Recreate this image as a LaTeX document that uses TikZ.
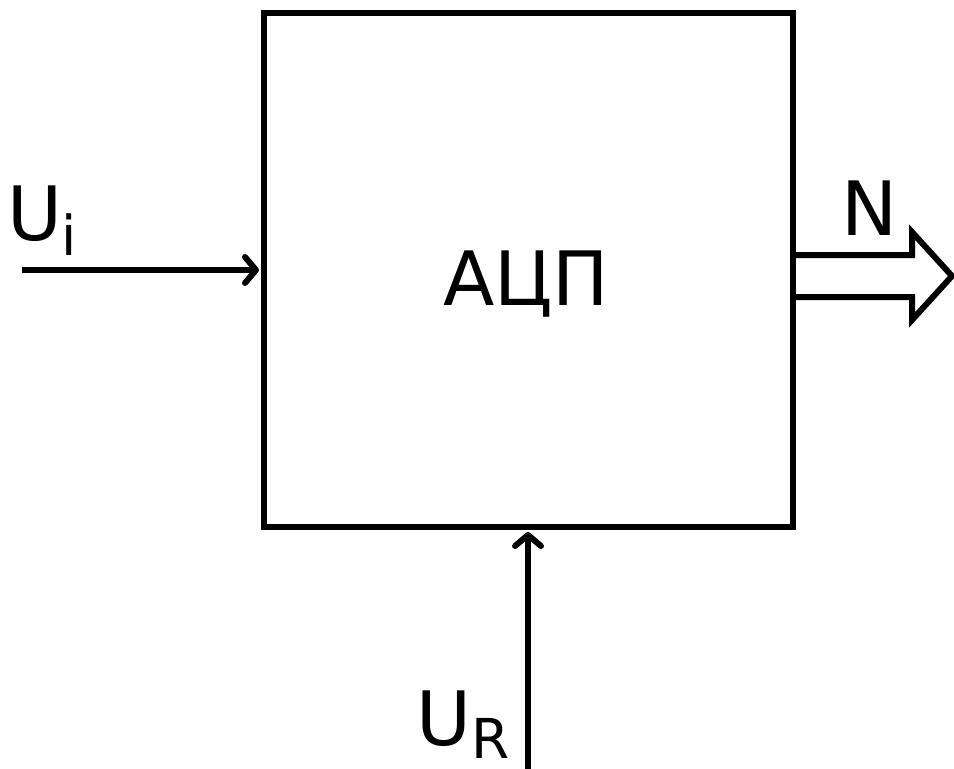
\documentclass[tikz,border=0pt]{standalone}
\usepackage{fontspec}
\setmainfont{DejaVu Sans}
\usetikzlibrary{arrows.meta}
\tikzset{
  wire/.style={line width=6pt, -{Straight Barb[length=11pt,width=26pt,line cap=round,line join=round]}},
  big/.style={inner sep=0pt, font=\fontsize{75}{80}\selectfont},
  small/.style={inner sep=0pt, font=\fontsize{55}{60}\selectfont}
}
\begin{document}
\begin{tikzpicture}[x=1pt,y=-1pt]
\useasboundingbox (0,0) rectangle (954,769);
\node[draw, line width=6pt, minimum width=529pt, minimum height=514pt, inner sep=0pt] (adc) at (528.5,270) {};
\node[big, anchor=base] (t) at (526,305) {АЦП};
\coordinate (inp) at (22,270);
\draw[wire, shorten >=2pt] (inp) -- (adc.west);
\coordinate (ref) at (528,769);
\draw[wire, shorten >=2pt] (ref) -- (ref |- adc.south);
\coordinate (out) at (793,276);
\draw[line width=6pt, line join=miter] (out) ++(0,-21) -- ++(119,0) -- ++(0,-23) -- ++(40,44) -- ++(-40,44) -- ++(0,-23) -- ++(-119,0);
\node[big, anchor=base west] (ui) at (7,240) {U};
\node[small, anchor=base west] (uis) at (61,255) {i};
\node[big, anchor=base west] (n) at (841,235) {N};
\node[big, anchor=base west] (ur) at (416,745) {U};
\node[small, anchor=base west] (urs) at (471,758) {R};
\end{tikzpicture}
\end{document}
